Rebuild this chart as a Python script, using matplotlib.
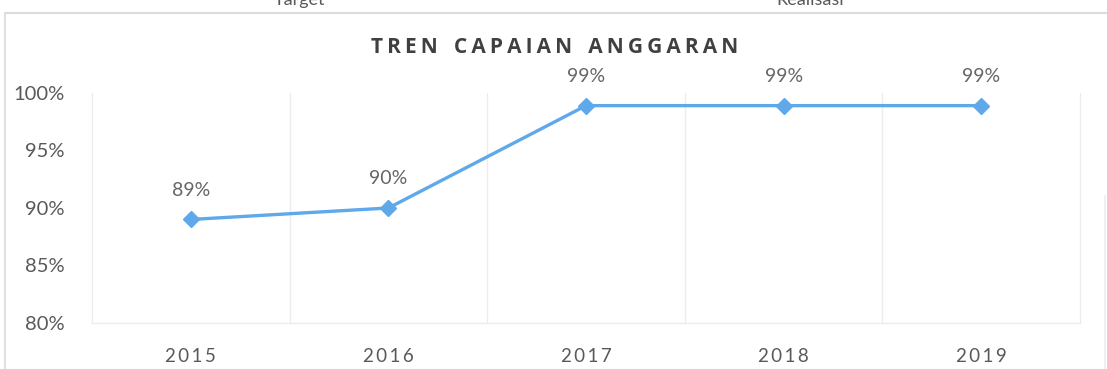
import matplotlib.pyplot as plt
from matplotlib.lines import Line2D
from matplotlib.ticker import FuncFormatter

years = ['2015', '2016', '2017', '2018', '2019']
capaian = [89.0, 90.0, 98.9, 98.9, 98.9]
yticks = [80, 85, 90, 95, 100]

line_color = '#5fa8ea'
text_color = '#595959'
grid_color = '#ececec'

plt.rcParams['font.family'] = ['Lato', 'DejaVu Sans']


def spaced(s):
    # letter-spaced text, as the office chart draws it
    return '\u2009'.join(s)


fig = plt.figure(figsize=(11.07, 3.69), dpi=100)
ax = fig.add_axes([0.0831, 0.1247, 0.8925, 0.6233])

x = list(range(len(years)))
ax.plot(x, capaian, color=line_color, lw=2.4, marker='D', ms=8,
        markerfacecolor=line_color, markeredgecolor=line_color, zorder=3)

for xi, v in zip(x, capaian):
    ax.annotate(f'{v:.0f}%', (xi, v), xytext=(0, 15), textcoords='offset points',
                ha='center', va='bottom', fontsize=14, color='#666666')

ax.set_xlim(-0.5, len(years) - 0.5)
ax.set_ylim(80, 100)
ax.set_yticks(yticks)
ax.yaxis.set_major_formatter(FuncFormatter(lambda v, p: f'{v:.0f}%'))
ax.set_xticks(x)
ax.set_xticklabels([spaced(y) for y in years])

# category separators
ax.set_xticks([i + 0.5 for i in x[:-1]], minor=True)
ax.grid(True, which='minor', axis='x', color=grid_color, lw=1)
ax.tick_params(which='both', length=0)
ax.tick_params(axis='y', labelsize=14.5, labelcolor=text_color, pad=20)
ax.tick_params(axis='x', labelsize=13.5, labelcolor=text_color, pad=18)

ax.spines['top'].set_visible(False)
for s in ['left', 'right', 'bottom']:
    ax.spines[s].set_color(grid_color)
    ax.spines[s].set_linewidth(1)

fig.text(0.501, 0.87, '   '.join(spaced(w) for w in 'TREN CAPAIAN ANGGARAN'.split()),
         ha='center', va='center', fontsize=15, fontweight='bold', color='#404040',
         fontfamily=['Open Sans', 'DejaVu Sans'])

# legend of the chart above, cut off at the top edge
fig.text(0.271, 1.0, 'Target', ha='center', va='center', fontsize=13, color=text_color)
fig.text(0.732, 1.0, 'Realisasi', ha='center', va='center', fontsize=13, color=text_color)

# outer frame
fig.add_artist(Line2D([0.0045, 1.0], [0.966, 0.966], color='#dcdcdc', lw=1.5,
                      transform=fig.transFigure))
fig.add_artist(Line2D([0.0045, 0.0045], [0.0, 0.966], color='#e0e0e0', lw=1.5,
                      transform=fig.transFigure))
fig.add_artist(Line2D([0.9985, 0.9985], [0.0, 0.47], color='#ececec', lw=1.2,
                      transform=fig.transFigure))

fig.savefig('out.png', dpi=100)
